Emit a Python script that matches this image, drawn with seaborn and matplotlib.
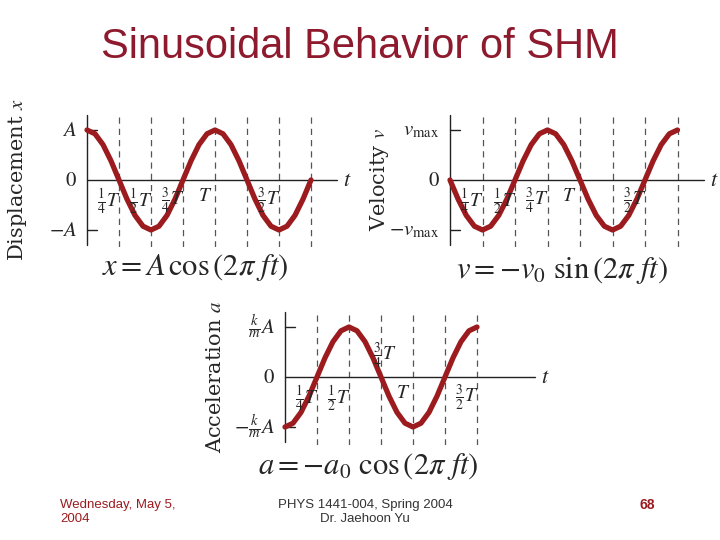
import matplotlib
matplotlib.use("Agg")
import matplotlib.pyplot as plt
import seaborn as sns
import numpy as np

sns.set_style("white")
plt.rcParams['mathtext.fontset'] = 'stix'

RED = "#9B1B1E"
steps16 = [k / 16 for k in range(29)]
disp = [1, .924, .707, .383, 0, -.383, -.707, -.924, -1, -.924, -.707, -.383, 0, .383, .707, .924,
        1, .924, .707, .383, 0, -.383, -.707, -.924, -1, -.924, -.707, -.383, 0]
vel = [0, -.383, -.707, -.924, -1, -.924, -.707, -.383, 0, .383, .707, .924, 1, .924, .707, .383,
       0, -.383, -.707, -.924, -1, -.924, -.707, -.383, 0, .383, .707, .924, 1]
acc = [-1, -.924, -.707, -.383, 0, .383, .707, .924, 1, .924, .707, .383, 0, -.383, -.707, -.924,
       -1, -.924, -.707, -.383, 0, .383, .707, .924, 1]
dash_pos = [0.25, 0.5, 0.75, 1.0, 1.25, 1.5, 1.75]
fr = {0.25: r'$\frac{1}{4}T$', 0.5: r'$\frac{1}{2}T$', 0.75: r'$\frac{3}{4}T$', 1.0: r'$T$', 1.5: r'$\frac{3}{2}T$'}

W, H = 720, 540
fig = plt.figure(figsize=(7.2, 5.4), dpi=100)


def panel(x0, y0, Tpx, tvals, yvals, ndash, ylabel, ytl, tick_set, above=(), xend=1.95):
    xmin, xmax = -0.12, 2.05
    ymin, ymax = -1.35, 1.35
    left = x0 + xmin * Tpx
    width = (xmax - xmin) * Tpx
    top = y0 - ymax * 50
    height = (ymax - ymin) * 50
    ax = fig.add_axes([left / W, 1 - (top + height) / H, width / W, height / H])
    ax.set_xlim(xmin, xmax)
    ax.set_ylim(ymin, ymax)
    ax.axis('off')
    for d in dash_pos[:ndash]:
        ax.axvline(d, color='#555555', ls=(0, (5, 4)), lw=0.9)
    ax.plot([0, xend], [0, 0], color='#222', lw=1)
    ax.plot([0, 0], [-1.3, 1.3], color='#222', lw=1)
    for yy in (1, -1):
        ax.plot([0, 0.08], [yy, yy], color='#222', lw=1)
    sns.lineplot(x=tvals, y=yvals, ax=ax, color=RED, lw=3.8)
    ax.text(xend + 0.05, 0, r'$t$', fontsize=16, va='center')
    for lab, yy in zip(ytl, (1, 0, -1)):
        ax.text(-0.08, yy, lab, fontsize=15, ha='right', va='center')
    for p in tick_set:
        if p in above:
            ax.text(p + 0.03, 0.12, fr[p], fontsize=14, ha='center', va='bottom')
        else:
            ax.text(p - 0.08, -0.12, fr[p], fontsize=14, ha='center', va='top')
    ax.text(xmin - 0.42, 0, ylabel, fontsize=15, rotation=90, ha='center', va='center',
            family='DejaVu Serif')
    return ax


panel(87, 180, 128, steps16, disp, 7, r'Displacement $x$', [r'$A$', r'$0$', r'$-A$'],
      [0.25, 0.5, 0.75, 1.0, 1.5])
panel(450, 180, 130, steps16, vel, 7, r'Velocity $v$', [r'$v_{\max}$', r'$0$', r'$-v_{\max}$'],
      [0.25, 0.5, 0.75, 1.0, 1.5])
panel(285, 377, 128, steps16[:25], acc, 6, r'Acceleration $a$',
      [r'$\frac{k}{m}A$', r'$0$', r'$-\frac{k}{m}A$'], [0.25, 0.5, 0.75, 1.0, 1.5],
      above=(0.75,), xend=1.95)

fig.text(360 / W, 1 - 47 / H, 'Sinusoidal Behavior of SHM', color='#8E1A2E', fontsize=30,
         ha='center', va='center', family='Liberation Sans')
fig.text(195 / W, 1 - 268 / H, r'$x = A\,\cos\left(2\pi\ ft\right)$', fontsize=22, ha='center', va='center')
fig.text(562 / W, 1 - 270 / H, r'$v = -v_0\ \sin\left(2\pi\ ft\right)$', fontsize=22, ha='center', va='center')
fig.text(368 / W, 1 - 466 / H, r'$a = -a_0\ \cos\left(2\pi\ ft\right)$', fontsize=22, ha='center', va='center')
fig.text(60 / W, 1 - 512 / H, 'Wednesday, May 5,\n2004', color='#9B1B1E', fontsize=9.5,
         ha='left', va='center', family='Liberation Sans')
fig.text(365 / W, 1 - 512 / H, 'PHYS 1441-004, Spring 2004\nDr. Jaehoon Yu', color='#333', fontsize=9.5,
         ha='center', va='center', family='Liberation Sans')
fig.text(655 / W, 1 - 505 / H, '68', color='#9B1B1E', fontsize=10, fontweight='bold',
         ha='right', va='center', family='Liberation Sans')
fig.savefig('out.png', dpi=100)
